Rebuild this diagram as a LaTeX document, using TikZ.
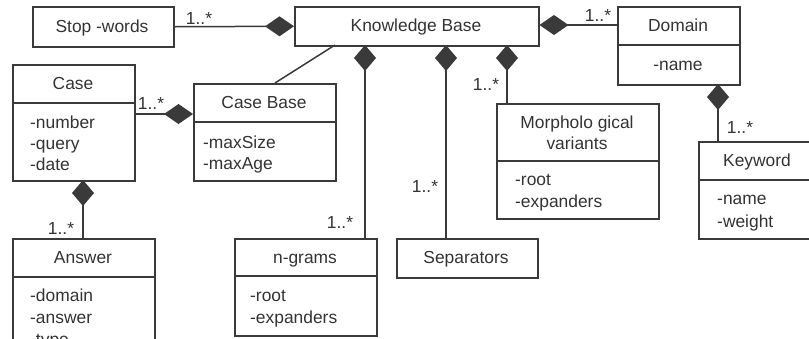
\documentclass[tikz,border=0pt]{standalone}
\usepackage{fontspec}
\setmainfont{Liberation Sans}
\usetikzlibrary{arrows.meta,calc}
\definecolor{lc}{HTML}{3A3A3A}
\definecolor{tc}{HTML}{333333}
\begin{document}
\begin{tikzpicture}[x=1pt,y=-1pt,
  box/.style={draw=lc, line width=1.5pt, anchor=north west, inner sep=0, rectangle},
  txt/.style={text=tc, font=\fontsize{17.4}{21}\selectfont, inner sep=0, anchor=base},
  att/.style={txt, anchor=base west},
  mult/.style={txt},
  conn/.style={draw=lc, line width=1.5pt},
  hdia/.style={conn, -{Diamond[length=29pt,width=20pt,fill=lc]}},
  vdia/.style={conn, {Diamond[length=26pt,width=22pt,fill=lc]}-}]
\useasboundingbox (0,0) rectangle (809,338);
\clip (0,0) rectangle (809,338);

% boxes
\node[box, minimum width=141pt, minimum height=40pt] (stop) at (32,6) {};
\node[box, minimum width=244pt, minimum height=39pt] (kb) at (294,6) {};
\node[box, minimum width=122pt, minimum height=78pt] (dom) at (617,6) {};
\node[box, minimum width=122pt, minimum height=116pt] (case) at (12,64) {};
\node[box, minimum width=142pt, minimum height=97pt] (cb) at (193,83) {};
\node[box, minimum width=142pt, minimum height=120pt] (ans) at (12,238) {};
\node[box, minimum width=142pt, minimum height=97pt] (ng) at (234,238) {};
\node[box, minimum width=141pt, minimum height=39pt] (sep) at (396,238) {};
\node[box, minimum width=162pt, minimum height=115pt] (morph) at (496,103) {};
\node[box, minimum width=118pt, minimum height=97pt] (kw) at (698,141) {};

% dividers
\draw[conn] (617,45) -- (739,45);
\draw[conn] (12,103) -- (134,103);
\draw[conn] (193,122) -- (335,122);
\draw[conn] (12,277) -- (154,277);
\draw[conn] (234,276) -- (376,276);
\draw[conn] (496,161) -- (658,161);
\draw[conn] (698,180) -- (816,180);

% texts (baselines)
\node[txt] (t1) at (102,32) {Stop -words};
\node[txt] (t2) at (416,31) {Knowledge Base};
\node[txt] (t3) at (678,31) {Domain};
\node[txt] (t4) at (678,70) {-name};
\node[txt] (t5) at (73,89) {Case};
\node[att] (t6) at (30,128) {-number};
\node[att] (t7) at (30,149) {-query};
\node[att] (t8) at (30,170) {-date};
\node[txt] (t9) at (264,108) {Case Base};
\node[att] (t10) at (203,148) {-maxSize};
\node[att] (t11) at (203,169) {-maxAge};
\node[txt] (t12) at (83,263) {Answer};
\node[att] (t13) at (30,301) {-domain};
\node[att] (t14) at (30,323) {-answer};
\node[att] (t15) at (30,345) {-type};
\node[txt] (t16) at (305,263) {n-grams};
\node[att] (t17) at (250,301) {-root};
\node[att] (t18) at (250,323) {-expanders};
\node[txt] (t19) at (466,263) {Separators};
\node[txt] (t20) at (577,128) {Morpholo gical};
\node[txt] (t21) at (577,149) {variants};
\node[att] (t22) at (515,185) {-root};
\node[att] (t23) at (515,207) {-expanders};
\node[txt] (t24) at (757,166) {Keyword};
\node[att] (t25) at (717,204) {-name};
\node[att] (t26) at (717,227) {-weight};

% connector anchor points
\coordinate (k1) at (365,45);
\coordinate (k2) at (446,45);
\coordinate (k3) at (507,45);
\coordinate (c1) at (83,180);
\coordinate (d1) at (718,84);

% connectors
\draw[hdia] (stop.east) -- (kb.west);
\draw[hdia] (dom.west |- 0,25) -- (kb.east |- 0,25);
\draw[hdia] (case.east |- 0,114) -- (cb.west |- 0,114);
\draw[conn] (335,45) -- (275,83);
\draw[vdia] (k1) -- (ng.north -| k1);
\draw[vdia] (k2) -- (sep.north -| k2);
\draw[vdia] (k3) -- (morph.north -| k3);
\draw[vdia] (c1) -- (ans.north -| c1);
\draw[vdia] (d1) -- (kw.north -| d1);

% multiplicities
\node[mult] (m1) at (199,24) {1..*};
\node[mult] (m2) at (598,21) {1..*};
\node[mult] (m3) at (151,109) {1..*};
\node[mult] (m4) at (340,228) {1..*};
\node[mult] (m5) at (425,192) {1..*};
\node[mult] (m6) at (486,90) {1..*};
\node[mult] (m7) at (61,234) {1..*};
\node[mult] (m8) at (740,133) {1..*};
\end{tikzpicture}
\end{document}
